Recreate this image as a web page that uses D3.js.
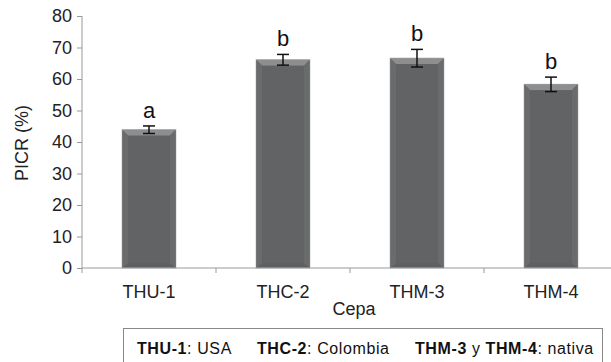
<!DOCTYPE html>
<html>
<head>
<meta charset="utf-8">
<title>PICR por cepa</title>
<script src="https://cdn.jsdelivr.net/npm/d3@7"></script>
<style>
  body { margin: 0; background: #fff; }
  svg text { font-family: "Liberation Sans", Arial, sans-serif; }
</style>
</head>
<body>
<script>
// datos
var cepas = ["THU-1", "THC-2", "THM-3", "THM-4"];
var picr = [43.9, 66.1, 66.6, 58.3];
var error = [1.2, 1.7, 2.8, 2.3];
var letras = ["a", "b", "b", "b"];
var yTicks = [0, 10, 20, 30, 40, 50, 60, 70, 80];

var width = 611, height = 362;
var FONT = "Liberation Sans, Arial, sans-serif";

var svg = d3.select("body").append("svg")
    .attr("width", width)
    .attr("height", height)
    .attr("font-family", FONT);

var x = d3.scaleBand().domain(cepas).range([82, 618]).paddingInner(0.6).paddingOuter(0.3);
var y = d3.scaleLinear().domain([0, 80]).range([268, 16]);

// ejes
var gy = svg.append("g").attr("transform", "translate(82,0)")
    .call(d3.axisLeft(y).tickValues(yTicks).tickSize(5).tickPadding(5))
    .attr("font-family", FONT);
gy.select(".domain").attr("stroke", "#999").attr("d", "M0,16V268");
gy.selectAll(".tick line").attr("stroke", "#999");
gy.selectAll(".tick text").style("font-size", "18px").attr("fill", "#222");

var gx = svg.append("g").attr("transform", "translate(0,268)");
gx.append("line").attr("x1", 82).attr("x2", 611).attr("stroke", "#999").attr("stroke-width", 1.2);
gx.selectAll(".sep").data(d3.range(cepas.length + 1)).enter().append("line")
    .attr("x1", function(i) { return 82 + i * x.step(); })
    .attr("x2", function(i) { return 82 + i * x.step(); })
    .attr("y1", 0).attr("y2", 5).attr("stroke", "#999");
gx.selectAll("text").data(cepas).enter().append("text")
    .attr("x", function(d) { return x(d) + x.bandwidth() / 2; })
    .attr("y", 30)
    .attr("text-anchor", "middle")
    .style("font-size", "18px").style("fill", "#222")
    .text(function(d) { return d; });

// barras
var bars = svg.append("g").selectAll("g").data(cepas).enter().append("g");
bars.append("rect")
    .attr("x", function(d) { return x(d); })
    .attr("y", function(d, i) { return y(picr[i]); })
    .attr("width", x.bandwidth())
    .attr("height", function(d, i) { return 268 - y(picr[i]); })
    .attr("fill", "#5f6062")
    .attr("stroke", "#b0b1b3").attr("stroke-width", 1);
// bisel superior
bars.append("path")
    .attr("d", function(d, i) {
      var x0 = x(d), x1 = x(d) + x.bandwidth(), t = y(picr[i]);
      return "M" + x0 + "," + t + "H" + x1 + "L" + (x1 - 6) + "," + (t + 6) + "H" + (x0 + 6) + "Z";
    })
    .attr("fill", "#8d8e90");
// bordes laterales
bars.append("path")
    .attr("d", function(d, i) {
      var x0 = x(d), x1 = x(d) + x.bandwidth(), t = y(picr[i]);
      return "M" + x0 + "," + t + "L" + (x0 + 6) + "," + (t + 6) + "V" + 263 + "L" + x0 + ",268Z" +
             "M" + x1 + "," + t + "L" + (x1 - 6) + "," + (t + 6) + "V" + 263 + "L" + x1 + ",268Z";
    })
    .attr("fill", "#6a6b6d");
bars.append("rect")
    .attr("x", function(d) { return x(d) + 6; })
    .attr("y", function(d, i) { return y(picr[i]) + 6; })
    .attr("width", x.bandwidth() - 12)
    .attr("height", function(d, i) { return 263 - y(picr[i]) - 6; })
    .attr("fill", "#626365");

// barras de error
var eb = svg.append("g").attr("stroke", "#111").attr("stroke-width", 1.5);
eb.selectAll(".v").data(cepas).enter().append("line")
    .attr("x1", function(d) { return x(d) + x.bandwidth() / 2; })
    .attr("x2", function(d) { return x(d) + x.bandwidth() / 2; })
    .attr("y1", function(d, i) { return y(picr[i] + error[i]); })
    .attr("y2", function(d, i) { return y(picr[i] - error[i]); });
[1, -1].forEach(function(s) {
  eb.selectAll(".c" + s).data(cepas).enter().append("line")
    .attr("x1", function(d) { return x(d) + x.bandwidth() / 2 - 6; })
    .attr("x2", function(d) { return x(d) + x.bandwidth() / 2 + 6; })
    .attr("y1", function(d, i) { return y(picr[i] + s * error[i]); })
    .attr("y2", function(d, i) { return y(picr[i] + s * error[i]); });
});

// letras de significancia
svg.append("g").selectAll("text").data(cepas).enter().append("text")
    .attr("x", function(d) { return x(d) + x.bandwidth() / 2; })
    .attr("y", function(d, i) { return y(picr[i] + error[i]) - 8; })
    .attr("text-anchor", "middle")
    .style("font-size", "22px").style("fill", "#111")
    .text(function(d, i) { return letras[i]; });

// titulos de ejes
svg.append("text")
    .attr("transform", "translate(28,143) rotate(-90)")
    .attr("text-anchor", "middle")
    .style("font-size", "18px").style("fill", "#222")
    .text("PICR (%)");
svg.append("text")
    .attr("x", 354).attr("y", 315)
    .attr("text-anchor", "middle")
    .style("font-size", "18px").style("fill", "#222")
    .text("Cepa");

// leyenda
svg.append("rect")
    .attr("x", 123.5).attr("y", 328.5).attr("width", 479).attr("height", 40)
    .attr("fill", "none").attr("stroke", "#888");
var ley = svg.append("text").attr("y", 354)
    .style("font-size", "16px").style("fill", "#111")
    .style("letter-spacing", "0.6px");
ley.append("tspan").attr("x", 137).style("font-weight", "bold").text("THU-1");
ley.append("tspan").text(": USA");
ley.append("tspan").attr("x", 257).style("font-weight", "bold").text("THC-2");
ley.append("tspan").text(": Colombia");
ley.append("tspan").attr("x", 415).style("font-weight", "bold").text("THM-3");
ley.append("tspan").text(" y ");
ley.append("tspan").style("font-weight", "bold").text("THM-4");
ley.append("tspan").text(": nativa");
</script>
</body>
</html>
